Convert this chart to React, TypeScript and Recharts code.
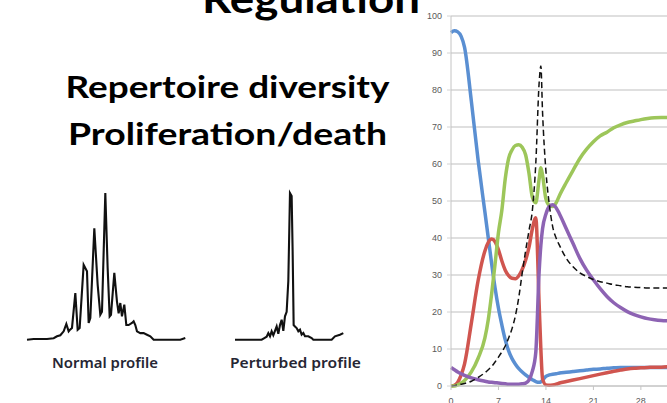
import React from "react";
import { LineChart, Line, XAxis, YAxis, CartesianGrid } from "recharts";

// ---- main time-course chart data ----
const days = [0,0.5,1,1.5,2,3,4,5,5.5,6,6.5,7,7.5,8,8.5,9,9.5,10,10.5,11,11.5,12,12.5,13,13.25,13.5,14,14.5,15,15.5,16,17,18,19,20,21,22,23,24,25,26,27,28,29,30,31,32];
const blueSeries = [95.5,96,95.7,94.5,91.5,77,61,47,40,33,26.5,21,16.5,12.5,9.5,7.4,5.9,4.7,3.8,3,2.3,1.7,1.2,1,1.1,1.6,2.6,3,3.2,3.3,3.5,3.7,3.9,4.1,4.3,4.5,4.6,4.8,4.9,5,5,5,5,5,5,5,5];
const greenSeries = [0,0,0.3,0.8,1.5,3.8,7.5,13,18,25,33,41.5,47.5,56,61.5,63.8,65,65.2,64.5,62.5,57.5,51,49.5,56,59,57,50.5,48.8,48.5,49.5,51.5,55,58.3,61.5,64,66,67.6,68.6,69.8,70.6,71.2,71.6,72,72.3,72.5,72.6,72.6];
const redSeries = [0,0.2,1,3,6,17,28.5,36.5,38.8,39.7,39,36.8,33.8,31.3,29.8,29.1,29,29.8,31.5,34,37.5,42.5,45.5,22,10,2,0.3,0.2,0.3,0.5,0.8,1.2,1.6,2,2.4,2.8,3.2,3.6,4,4.3,4.6,4.8,4.9,5,5.1,5.1,5.2];
const purpleSeries = [5,4.4,3.8,3.3,2.9,2.2,1.7,1.3,1.1,1,0.9,0.8,0.7,0.6,0.5,0.5,0.5,0.5,0.6,0.8,1.6,4,9,31,38,42.5,46.5,48.5,49,48.2,46.5,42.5,38.5,34.5,31.3,28.7,26.3,24.2,22.5,21.2,20.1,19.3,18.7,18.2,17.9,17.7,17.6];
const dashedSeries = [0,0.1,0.3,0.5,0.7,1.3,2.3,3.6,4.4,5.3,6.5,7.8,9.2,10.8,13,15.5,19,24,30.5,36.5,42,47.5,60,82,86.5,74,58,49,43,40,38,34.5,32.2,30.6,29.6,28.8,28.2,27.8,27.4,27.1,26.8,26.7,26.6,26.5,26.5,26.5,26.5];
const yTicks = [0,10,20,30,40,50,60,70,80,90,100];
const xTicks = [0,7,14,21,28];

// ---- spectratype profiles ----
const normalPos = [20,40,60,80,100,110,120,130,138,145,150,155,165,172,178,190,200,205,210,222,232,240,245,255,262,268,272,282,290,295,300,305,312,318,325,335,340,345,350,360,370,380,390,400,420,440,460,480,495];
const normalVal = [0,0.5,0.5,0.5,1,2.3,3,5.7,10.7,5.7,7,8,31.8,6.8,8,51,46.6,11.4,14.8,76,37.5,17,19,100,48.9,15.9,17,45.5,26,18,25,15.9,23.9,10,10,11.4,12.5,10,5.7,4.5,4.5,3.4,2.3,0,0,0,0,0,1.1];
const perturbedPos = [30,110,118,125,130,135,140,145,150,155,160,165,170,175,180,185,190,195,200,203,206,210,215,220,225,230,235,240,250,260,265,320,330,345,355];
const perturbedVal = [0,0,1.1,2,4.5,2.3,5.7,3,6,9,4,10,13.6,6,15.9,19,40,100,98,60,10,9,7.9,5.7,6.8,3.4,4.5,2.3,2.3,1.1,0,0,2.3,3.4,4.5];

const mainData = days.map((d, i) => ({
  day: d,
  blue: blueSeries[i],
  green: greenSeries[i],
  red: redSeries[i],
  purple: purpleSeries[i],
  dashed: dashedSeries[i],
}));
const normalData = normalPos.map((p, i) => ({ p, v: normalVal[i] }));
const perturbedData = perturbedPos.map((p, i) => ({ p, v: perturbedVal[i] }));

const tickStyle = { fill: "#595959", fontSize: 9, fontFamily: "Liberation Sans, Arial, sans-serif" };

export default function App() {
  return (
    <div style={{ position: "absolute", left: 0, top: 0, width: 667, height: 403, overflow: "hidden", background: "#fff" }}>
      <svg width={667} height={403} style={{ position: "absolute", left: 0, top: 0 }}>
        <text x={202} y={13} fontFamily="Lato, 'Open Sans', sans-serif" fontWeight={700} fontSize={40} fill="#000" textLength={218} lengthAdjust="spacingAndGlyphs">Regulation</text>
        <text x={65.5} y={97.5} fontFamily="Lato, 'Open Sans', sans-serif" fontWeight={700} fontSize={30} fill="#000" textLength={324} lengthAdjust="spacingAndGlyphs">Repertoire diversity</text>
        <text x={68} y={145} fontFamily="Lato, 'Open Sans', sans-serif" fontWeight={700} fontSize={30} fill="#000" textLength={319} lengthAdjust="spacingAndGlyphs">Proliferation/death</text>
        <text x={52} y={368} fontFamily="'Noto Sans', sans-serif" fontWeight={600} fontSize={14} fill="#262633" textLength={106} lengthAdjust="spacingAndGlyphs">Normal profile</text>
        <text x={230} y={368} fontFamily="'Noto Sans', sans-serif" fontWeight={600} fontSize={14} fill="#262633" textLength={131} lengthAdjust="spacingAndGlyphs">Perturbed profile</text>
      </svg>

      <div style={{ position: "absolute", left: 21.7, top: 188.3 }}>
        <LineChart width={168.3} height={156.7} data={normalData} margin={{ top: 5, right: 5, bottom: 5, left: 5 }}>
          <XAxis dataKey="p" type="number" domain={[20, 495]} hide />
          <YAxis type="number" domain={[0, 100]} hide />
          <Line dataKey="v" type="linear" stroke="#111" strokeWidth={2.1} dot={false} isAnimationActive={false} />
        </LineChart>
      </div>

      <div style={{ position: "absolute", left: 230, top: 188.3 }}>
        <LineChart width={118.3} height={156.7} data={perturbedData} margin={{ top: 5, right: 5, bottom: 5, left: 5 }}>
          <XAxis dataKey="p" type="number" domain={[30, 355]} hide />
          <YAxis type="number" domain={[0, 100]} hide />
          <Line dataKey="v" type="linear" stroke="#111" strokeWidth={2.1} dot={false} isAnimationActive={false} />
        </LineChart>
      </div>

      <div style={{ position: "absolute", left: 400, top: 0 }}>
        <LineChart width={268} height={406} data={mainData} margin={{ top: 16, right: 0, bottom: 0, left: 0 }}>
          <CartesianGrid vertical={false} stroke="#d4d4d4" strokeWidth={1.5} />
          <XAxis dataKey="day" type="number" domain={[0, 32]} ticks={xTicks} height={20}
            axisLine={{ stroke: "#c4c4c4" }} tickLine={{ stroke: "#c4c4c4" }} tickSize={4} tickMargin={8} tick={tickStyle} />
          <YAxis type="number" domain={[0, 100]} ticks={yTicks} width={51}
            axisLine={{ stroke: "#c4c4c4" }} tickLine={{ stroke: "#d4d4d4" }} tickSize={4} tickMargin={5} tick={tickStyle} />
          <Line dataKey="blue" type="monotone" stroke="#5a8fd2" strokeWidth={3.5} dot={false} isAnimationActive={false} />
          <Line dataKey="red" type="monotone" stroke="#d0554f" strokeWidth={3.5} dot={false} isAnimationActive={false} />
          <Line dataKey="green" type="monotone" stroke="#9dc65a" strokeWidth={3.5} dot={false} isAnimationActive={false} />
          <Line dataKey="purple" type="monotone" stroke="#8d63b3" strokeWidth={3.5} dot={false} isAnimationActive={false} />
          <Line dataKey="dashed" type="monotone" stroke="#111" strokeWidth={1.5} strokeDasharray="6 3.5" dot={false} isAnimationActive={false} />
        </LineChart>
      </div>
    </div>
  );
}
